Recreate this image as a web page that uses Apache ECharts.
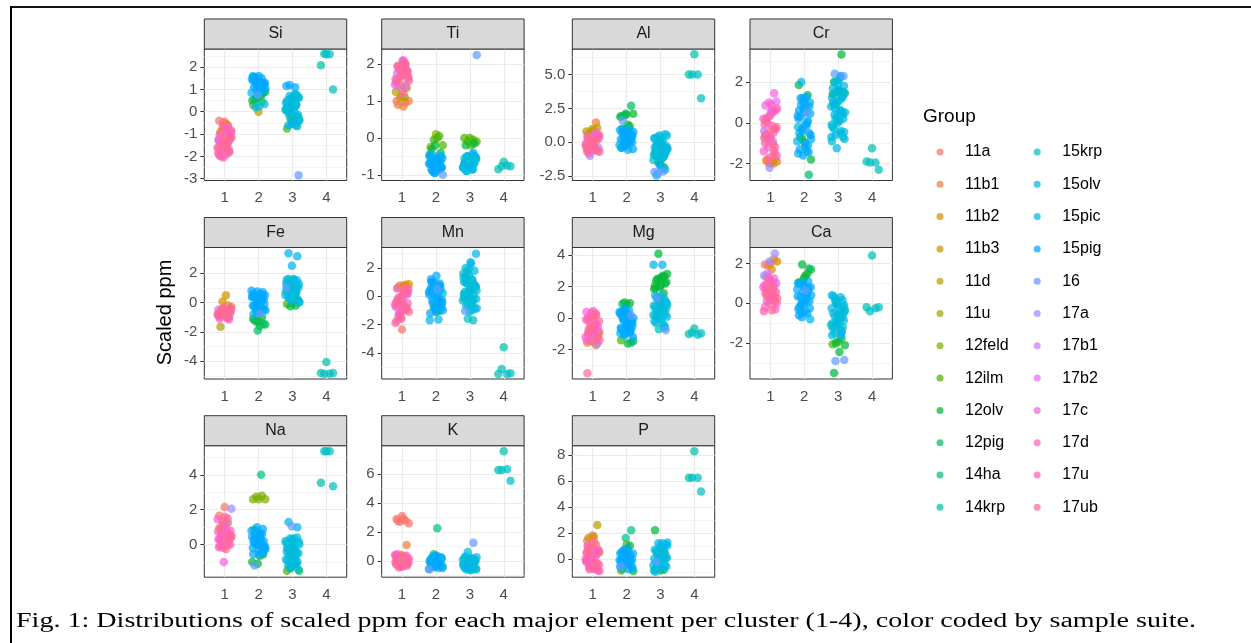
<!DOCTYPE html>
<html><head><meta charset="utf-8">
<script src="https://cdn.jsdelivr.net/npm/echarts@6/dist/echarts.min.js"></script>
<style>html,body{margin:0;padding:0;background:#fff}#c{width:1251px;height:643px}</style>
</head><body><div id="c"></div>
<script>
// ---------- data ----------
const groups = ['11a','11b1','11b2','11b3','11d','11u','12feld','12ilm','12olv','12pig','14ha','14krp',
  '15krp','15olv','15pic','15pig','16','17a','17b1','17b2','17c','17d','17u','17ub'];
const elements = ['Si','Ti','Al','Cr','Fe','Mn','Mg','Ca','Na','K','P'];
const clusterTicks = [1,2,3,4];
const yLimits = [[-3.08,2.81],[-1.155,2.41],[-2.82,6.88],[-2.83,3.62],[-5.2,3.74],[-5.85,3.44],
  [-3.86,4.49],[-3.8,2.8],[-1.87,5.67],[-1.14,7.98],[-1.42,8.73]];
const yBreaks = [[-3,-2,-1,0,1,2],[-1,0,1,2],[-2.5,0,2.5,5],[-2,0,2],[-4,-2,0,2],[-4,-2,0,2],
  [-2,0,2,4],[-2,0,2],[0,2,4],[0,2,4,6],[0,2,4,6,8]];

// rows: [cluster, group, scaled ppm values]
const Si = [
 [1,'11a',[-0.45,-0.4]],[1,'11b1',[-0.6,-0.7,-0.85]],[1,'11b2',[-0.55,-0.9]],[1,'17a',[-1.3,-1.35,-1.25]],
 [1,'17b1',[-0.75,-1.75]],[1,'17c',[-1.0,-1.5,-1.05,-1.8]],[1,'17d',[-1.1,-1.6,-1.9,-2.0,-1.2,-0.65,-1.3,-1.45,-1.75,-0.9]],
 [1,'17u',[-0.8,-1.4,-1.7,-2.05,-1.85,-1.0,-1.55,-1.15,-1.6,-1.95,-0.7]],[1,'17ub',[-0.5,-1.15,-1.55,-0.95,-1.8,-1.25,-1.65,-1.35]],
 [2,'11d',[0.0]],[2,'12feld',[0.3]],[2,'12ilm',[0.45,0.65]],[2,'12olv',[0.9,0.75,0.55,0.85]],
 [2,'12pig',[0.6,0.5,0.7]],[2,'15olv',[0.2,0.35,0.25]],[2,'15pic',[1.55,1.25,0.95,0.85,1.05,1.35,1.0,0.8]],
 [2,'15pig',[1.6,1.5,1.4,1.3,1.2,1.1,1.0,1.35,1.45,1.15,1.55,1.25,1.6,1.4,1.3,1.15,1.05,0.9,1.5,1.2]],[2,'16',[0.75]],
 [3,'12ilm',[-0.2,-0.75,-0.6]],[3,'12olv',[-0.3,-0.35,-0.45]],[3,'15krp',[0.25,-0.4,-0.55,0.05]],
 [3,'15olv',[0.8,0.7,0.6,0.5,0.4,0.3,0.2,0.1,0.0,-0.1,-0.2,0.45,0.15,0.35,-0.05,0.65,0.55,0.25,
   0.75,0.6,0.4,0.2,0.0,-0.15,-0.3,0.5,0.3,0.1,-0.4,0.7]],
 [3,'15pic',[-0.6,-0.65,-0.5]],[3,'15pig',[1.15,1.1,1.2]],[3,'16',[-2.85]],
 [4,'14krp',[2.58,2.08]],[4,'15krp',[2.58,2.6,1.0]]
];
const Ti = [
 [1,'11a',[1.3,1.0,0.95,1.1]],[1,'11b1',[1.0,0.85,0.9]],[1,'11b2',[1.35]],[1,'11d',[1.1,1.25]],[1,'11u',[1.1]],
 [1,'17a',[1.4,1.6,2.1]],[1,'17b1',[1.75,1.4]],[1,'17c',[1.9,1.45]],[1,'17d',[2.1,1.9,1.8,1.7,1.5,2.0,1.85,1.65]],
 [1,'17u',[2.05,1.95,1.85,1.75,1.6,2.0,1.9,1.8,1.7,1.55]],[1,'17ub',[2.0,1.65,1.55,1.2,1.95,1.75,1.45]],
 [2,'12feld',[0.1,-0.25]],[2,'12ilm',[0.05,-0.05,-0.2,0.0]],[2,'12olv',[-0.3,-0.4,-0.2]],[2,'12pig',[-0.45,-0.55]],
 [2,'15olv',[-0.6,-0.8,-0.5]],[2,'15pic',[-0.45,-0.65,-0.95,-0.7,-0.55,-0.9]],
 [2,'15pig',[-0.5,-0.6,-0.7,-0.8,-0.9,-0.55,-0.75,-0.85,-0.65,-0.95,-0.5,-0.6,-0.7,-0.8,-0.9,-0.65,-0.85,-0.75]],[2,'16',[-1.0]],
 [3,'12ilm',[0.0,0.0,-0.05,-0.1,-0.1,-0.2]],[3,'12olv',[-0.2,-0.15]],[3,'15krp',[-0.6,-0.8]],
 [3,'15olv',[-0.45,-0.5,-0.55,-0.6,-0.65,-0.7,-0.75,-0.8,-0.85,-0.9,-0.5,-0.6,-0.7,-0.85,
   -0.5,-0.55,-0.6,-0.65,-0.7,-0.75,-0.8,-0.85,-0.9,-0.6,-0.7,-0.55]],
 [3,'15pic',[-0.4,-0.75]],[3,'16',[2.25]],
 [4,'14krp',[-0.65,-0.85]],[4,'15krp',[-0.75,-0.77,-0.77]]
];
const Al = [
 [1,'11a',[0.65,-0.7]],[1,'11b1',[1.45,0.7,0.5]],[1,'11b2',[0.9,0.6]],[1,'11b3',[1.05]],[1,'11d',[0.95,0.8]],
 [1,'17a',[0.55,-1.0,-0.4]],[1,'17b1',[-0.6,0.2]],[1,'17b2',[0.7]],[1,'17c',[0.3,-0.2,0.5,-0.6]],
 [1,'17d',[0.4,0.0,-0.3,-0.5,0.1,0.3,-0.2,-0.6,0.6]],[1,'17u',[0.2,-0.1,-0.55,-0.8,0.5,0.0,0.45,0.1,-0.35,-0.7]],
 [1,'17ub',[-0.25,0.35,-0.65,0.0,-0.45,0.25]],
 [2,'12feld',[2.05]],[2,'12ilm',[1.9,1.2]],[2,'12olv',[2.0,2.1,1.3,1.0]],[2,'12pig',[2.7,2.1,1.9]],[2,'14ha',[1.0]],
 [2,'15pic',[0.9,0.45,0.1,-0.4,0.25,0.6,-0.2]],
 [2,'15pig',[1.0,0.8,0.6,0.4,0.2,0.0,-0.3,-0.5,0.5,0.7,0.3,-0.1,0.9,0.6,0.3,0.0,-0.2,-0.4,0.5,0.15,0.75,-0.55]],[2,'16',[1.6]],
 [3,'12ilm',[-1.6]],[3,'12olv',[-1.0,-1.85,-1.5]],[3,'15krp',[-0.5,-1.2,-0.7]],
 [3,'15olv',[0.6,0.5,0.3,0.1,-0.1,-0.3,-0.5,-0.7,-0.9,-1.1,-1.3,-0.2,-0.6,-0.8,0.0,-0.4,-1.0,0.4,
   0.5,0.2,-0.2,-0.5,-0.7,-0.9,-1.15,-0.3,-0.6,-0.8,0.3,-1.05,0.05,-0.45]],
 [3,'15pic',[-1.9,-2.45,-2.0]],[3,'15pig',[-1.7]],[3,'16',[-2.2,-2.15,-2.3]],
 [4,'14krp',[6.5,5.0]],[4,'15krp',[5.0,5.0,3.25]]
];
const Cr = [
 [1,'11a',[-2.0,-0.65]],[1,'11b1',[-2.0,-1.95,-1.9]],[1,'11b2',[-1.95,-1.85]],[1,'11d',[-1.75]],
 [1,'17a',[-2.2,-0.4,-0.9]],[1,'17b1',[-0.85]],[1,'17b2',[1.05,0.55]],[1,'17c',[0.85,1.45,1.0,0.2,0.6,-0.6]],
 [1,'17d',[0.6,0.35,-0.1,-0.5,-1.2,-1.6,0.9,0.2,-0.3,-0.8,-1.4,0.5]],
 [1,'17u',[0.0,-0.3,-0.7,-1.0,-1.4,0.3,0.7,-0.15,-0.55,-1.2,-1.7]],[1,'17ub',[-0.75,-1.05,-1.8,-0.2,-0.4,0.1,-1.5]],
 [2,'12ilm',[-0.95]],[2,'12olv',[1.85,1.35,-0.8,-1.8]],[2,'12pig',[0.7,-0.7,-2.55]],[2,'15olv',[1.0,-0.2,-1.4]],
 [2,'15pic',[2.0,0.45,-0.1,-0.5,-1.1,1.2,-0.9]],
 [2,'15pig',[1.25,1.2,0.8,0.5,0.2,0.0,-0.3,-0.6,-1.0,-1.3,-1.45,-1.6,0.35,-0.15,0.9,1.0,
   1.1,0.6,0.1,-0.4,-0.8,-1.2,0.3,-0.5,0.7,-1.5]],[2,'16',[0.5]],
 [3,'12ilm',[1.55,1.4]],[3,'12olv',[3.35,1.5,1.45,1.55,2.0]],[3,'15krp',[1.3,0.1,-0.9]],
 [3,'15olv',[2.25,2.0,1.8,1.6,1.4,1.2,1.0,0.8,0.6,0.4,0.2,0.0,-0.2,-0.4,-0.6,-0.8,1.1,0.9,0.5,0.3,-0.1,-0.5,0.7,1.5,
   1.9,1.7,1.3,0.9,0.5,0.1,-0.3,-0.7,1.6,1.2,0.6,0.2,-0.45,2.1,1.0,0.4]],
 [3,'15pic',[-1.25,-0.7,2.3]],[3,'16',[2.4,2.3]],
 [4,'14krp',[-1.25,-1.9]],[4,'15krp',[-1.95,-1.95,-2.3]]
];
const Fe = [
 [1,'11a',[-0.5,-0.8]],[1,'11b1',[-0.2]],[1,'11b2',[0.05,-0.3]],[1,'11b3',[0.5]],[1,'11d',[-1.65]],
 [1,'17a',[-0.95,-0.6]],[1,'17b1',[-0.5]],[1,'17c',[-1.0,-0.8]],[1,'17d',[-0.4,-0.7,-1.1,-0.55,-0.5,-0.85,-1.0,-0.6]],
 [1,'17u',[-0.45,-0.65,-0.85,-1.05,-0.6,-0.55,-0.75,-0.95,-1.15]],[1,'17ub',[-0.35,-0.75,-0.9,-0.45,-0.7,-0.65]],
 [2,'12feld',[-1.25]],[2,'12ilm',[-1.1]],[2,'12olv',[-1.0,-1.3,-1.5,-1.6]],[2,'12pig',[-1.2,-1.45,-1.9]],
 [2,'15olv',[0.45,-0.35]],[2,'15pic',[0.3,-0.1,-0.5,-0.8,0.5,-0.3]],
 [2,'15pig',[0.8,0.6,0.4,0.2,0.0,-0.2,-0.4,-0.6,0.5,0.1,-0.3,0.7,0.75,0.35,0.05,-0.15,-0.45,-0.7,0.6,0.25,-0.25,-0.55]],[2,'16',[-0.75]],
 [3,'12ilm',[0.0,-0.1]],[3,'12olv',[-0.2,-0.25]],[3,'15krp',[0.0,0.65]],
 [3,'15olv',[1.6,1.5,1.4,1.3,1.2,1.1,1.0,0.9,0.8,0.7,0.6,0.5,0.4,0.3,0.2,0.1,1.55,0.85,0.45,1.25,
   1.55,1.35,1.15,0.95,0.75,0.55,0.35,0.15,1.45,1.05,0.65,0.25,0.05,1.6]],
 [3,'15pic',[3.35,3.15,2.5]],[3,'16',[1.0]],
 [4,'14krp',[-4.05,-4.8]],[4,'15krp',[-4.85,-4.85,-4.8]]
];
const Mn = [
 [1,'11a',[-2.35,-1.75]],[1,'11b1',[0.8,0.75]],[1,'11b2',[0.85,0.7]],[1,'11b3',[0.6]],
 [1,'17a',[0.1,-0.45]],[1,'17b1',[-0.75]],[1,'17c',[0.5,-1.2,0.2,-0.35]],
 [1,'17d',[0.55,0.2,-0.2,-0.6,-1.0,-1.4,0.4,0.0,-0.4,-0.8,-1.2]],
 [1,'17u',[0.5,0.1,-0.3,-0.8,-1.5,-1.9,0.3,-0.1,-0.5,-1.0,-0.65]],[1,'17ub',[0.3,-0.5,-1.1,0.45,-0.2,-0.9,-1.6]],
 [2,'12feld',[-1.1]],[2,'12olv',[0.4,-1.05]],[2,'12pig',[-0.8]],[2,'15olv',[0.2,-0.5]],
 [2,'15pic',[1.0,0.45,-0.75,-1.7,-1.65,0.8,-0.25]],
 [2,'15pig',[1.45,1.2,0.9,0.6,0.3,0.0,-0.3,-0.6,-0.9,-1.2,0.75,0.15,-0.45,-0.15,
   1.0,0.7,0.4,0.1,-0.2,-0.5,-0.8,-1.1,0.55,-0.35,0.95,-1.0]],[2,'16',[0.5]],
 [3,'12olv',[0.0,-0.15]],[3,'15krp',[-1.7,-1.6,0.4]],
 [3,'15olv',[2.3,2.0,1.8,1.5,1.3,1.1,0.9,0.7,0.5,0.3,0.1,-0.1,-0.3,-0.5,-0.7,-0.9,-1.1,1.0,0.6,0.2,-0.2,-0.6,1.4,0.8,
   1.9,1.6,1.2,0.95,0.65,0.35,0.05,-0.25,-0.55,-0.85,-1.0,1.15,0.75,0.45,0.15,-0.4,1.7]],
 [3,'15pic',[3.0,2.4]],[3,'16',[-1.05]],
 [4,'14krp',[-3.6,-5.5]],[4,'15krp',[-5.5,-5.15,-5.45]]
];
const Mg = [
 [1,'11a',[-0.8]],[1,'11b1',[-1.55,-1.7]],[1,'11b2',[-1.45]],[1,'11d',[-0.9]],[1,'17a',[-0.55,-1.0,-1.6]],
 [1,'17b1',[-1.1]],[1,'17c',[0.4,-0.3,0.1,-0.85]],[1,'17d',[0.45,0.0,-0.4,-0.75,-1.2,0.25,-0.2,-0.55,-1.0,-1.4]],
 [1,'17u',[0.3,0.1,-0.2,-0.6,-0.95,-1.3,0.35,-0.1,-0.45,-0.8,-1.15,-1.5]],[1,'17ub',[-3.5,0.2,-0.5,-1.4,0.05,-0.7,-1.2]],
 [2,'12feld',[0.9]],[2,'12ilm',[-1.4]],[2,'12olv',[0.95,1.0,-1.45,-1.6]],[2,'12pig',[0.9,-1.55]],
 [2,'15olv',[-0.15,-0.95]],[2,'15pic',[0.5,-0.1,-0.5,-0.9,0.2,-0.75]],
 [2,'15pig',[0.6,0.4,0.2,0.0,-0.2,-0.4,-0.6,-0.8,-1.0,-1.2,-0.3,0.3,-0.7,
   0.5,0.3,0.1,-0.1,-0.3,-0.5,-0.7,-0.9,-1.1,0.0,-0.55,0.45]],[2,'16',[0.15]],
 [3,'12ilm',[2.5,2.1,1.6]],[3,'12olv',[4.1,2.8,2.6,2.4,2.2,2.0,1.85,2.7,2.5,2.3,2.1,1.9,2.65]],[3,'15krp',[-0.7,0.2]],
 [3,'15olv',[1.5,1.3,1.1,0.9,0.7,0.5,0.3,0.1,-0.1,-0.3,-0.5,1.2,0.8,0.4,0.0,0.6,1.0,
   1.45,1.25,1.05,0.85,0.65,0.45,0.25,0.05,-0.2,-0.4,1.35,0.95,0.55,0.15,-0.6,1.1]],
 [3,'15pic',[3.4,3.4]],[3,'16',[1.25,-0.75]],
 [4,'14krp',[-0.65,-1.0]],[4,'15krp',[-1.05,-0.9,-0.95]]
];
const Ca = [
 [1,'11a',[2.0,1.95]],[1,'11b1',[2.2,1.9]],[1,'11b2',[2.1,1.7]],[1,'11d',[1.35]],[1,'17a',[2.5,2.1,1.4,0.95]],
 [1,'17b1',[1.5]],[1,'17c',[1.0,0.2,0.5,1.25]],[1,'17d',[1.3,0.8,0.5,0.1,-0.3,1.2,0.9,0.6,0.35,0.0]],
 [1,'17u',[1.1,0.7,0.3,0.0,-0.4,0.45,1.0,0.55,0.15,-0.2,0.8]],[1,'17ub',[0.6,0.25,-0.35,0.4,0.1,0.75]],
 [2,'12feld',[1.3,1.05]],[2,'12ilm',[1.5]],[2,'12olv',[1.95,1.7,1.4,1.0]],[2,'12pig',[1.75,1.2]],
 [2,'15pic',[1.0,0.4,-0.45,-0.8,0.85,-0.2]],
 [2,'15pig',[1.1,0.9,0.7,0.5,0.3,0.1,-0.1,-0.3,-0.5,-0.7,0.8,0.2,1.0,0.75,0.55,0.35,0.15,-0.05,-0.25,-0.45,-0.6,0.6,0.0,0.4]],[2,'16',[0.65]],
 [3,'12ilm',[-1.9,-2.05]],[3,'12olv',[-1.75,-2.0,-2.1,-2.45,-3.5]],[3,'15krp',[-1.2,0.0]],
 [3,'15olv',[0.4,0.3,0.1,-0.1,-0.3,-0.5,-0.7,-0.9,-1.1,-1.3,-1.5,-0.2,-0.6,-1.0,-1.4,0.2,-0.4,-0.8,
   0.35,0.15,-0.05,-0.25,-0.45,-0.65,-0.85,-1.05,-1.25,-1.45,0.0,-0.35,-0.75,-1.15,-0.55,-0.95,-1.6]],
 [3,'15pic',[-1.6]],[3,'16',[-2.9,-2.85]],
 [4,'14krp',[2.4,-0.2]],[4,'15krp',[-0.25,-0.4,-0.2]]
];
const Na = [
 [1,'11a',[2.15,1.65]],[1,'11b1',[1.25]],[1,'11b2',[1.1]],[1,'17a',[2.05,1.2]],[1,'17b1',[0.9]],[1,'17b2',[0.5]],
 [1,'17c',[-1.0,0.3,0.7,0.35]],[1,'17d',[0.8,0.55,0.3,0.0,-0.2,1.45,0.9,0.6,0.35,0.1,-0.15]],
 [1,'17u',[1.5,0.7,0.4,0.15,-0.1,0.6,1.1,0.75,0.45,0.2,0.0]],[1,'17ub',[1.6,0.95,0.2,1.3,0.5,-0.25]],
 [2,'12feld',[2.6,2.6,2.8,2.75,2.6]],[2,'12ilm',[-0.65]],[2,'12olv',[0.85,-0.55,-1.1,-1.0]],[2,'14ha',[4.0]],
 [2,'15pic',[0.45,-0.3,-0.6,0.2,-0.5]],
 [2,'15pig',[1.0,0.8,0.6,0.4,0.2,0.0,-0.2,-0.4,0.3,-0.1,0.5,0.1,0.9,0.7,0.45,0.25,0.05,-0.15,-0.35,-0.55,0.6,0.0,-0.25,0.15]],[2,'16',[-1.2]],
 [3,'12ilm',[-1.2,-1.5]],[3,'12olv',[-1.1,-1.35,-1.5]],[3,'15krp',[0.35,-1.2]],
 [3,'15olv',[0.4,0.3,0.1,-0.1,-0.3,-0.5,-0.7,-0.9,-1.1,-1.3,0.2,-0.2,-0.6,-1.0,0.0,-0.4,-0.8,
   0.35,0.15,-0.05,-0.25,-0.45,-0.65,-0.85,-1.05,-1.25,-1.4,0.25,-0.15,-0.55,-0.95,0.0,-0.35]],
 [3,'15pic',[1.3,1.0]],[3,'16',[1.05]],
 [4,'14krp',[5.35,3.55]],[4,'15krp',[5.35,5.35,3.35]]
];
const K = [
 [1,'11a',[3.1,2.9,2.8,2.7,2.6,2.9,2.75]],[1,'11b1',[1.1,0.4]],[1,'11b2',[0.35]],[1,'11d',[0.3]],
 [1,'17a',[-0.3]],[1,'17b1',[0.0]],[1,'17c',[-0.4,0.1,0.2,-0.2]],[1,'17d',[0.4,0.2,0.0,-0.2,-0.4,0.3,0.3,0.1,-0.1,-0.3,0.45]],
 [1,'17u',[0.35,0.1,-0.1,-0.3,-0.45,-0.2,0.25,0.0,-0.2,-0.4,0.15]],[1,'17ub',[0.2,-0.15,-0.35,0.35,-0.25,0.05]],
 [2,'12olv',[0.3,0.05,-0.3]],[2,'12pig',[0.45,-0.4]],[2,'14ha',[2.25]],[2,'15pic',[0.2,-0.1,-0.35,0.0,-0.5]],
 [2,'15pig',[0.3,0.15,0.0,-0.15,-0.3,-0.45,-0.55,0.1,-0.2,0.25,0.05,-0.1,-0.25,-0.4,-0.5,0.35,-0.05,-0.35,0.2]],[2,'16',[-0.6]],
 [3,'12olv',[-0.6]],[3,'15krp',[0.2,-0.45]],
 [3,'15olv',[0.6,0.25,0.1,0.0,-0.1,-0.2,-0.3,-0.4,-0.5,-0.6,0.15,-0.15,-0.35,-0.55,0.05,
   0.2,0.05,-0.05,-0.15,-0.25,-0.35,-0.45,-0.55,-0.65,0.3,0.1,-0.1,-0.3,-0.5,-0.6,0.0]],
 [3,'15pic',[-0.25,-0.5]],[3,'16',[1.25]],
 [4,'14krp',[7.6,6.3]],[4,'15krp',[6.35,6.3,5.55]]
];
const P = [
 [1,'11a',[1.8,1.4,1.1]],[1,'11b1',[0.8]],[1,'11b2',[0.5]],[1,'11b3',[1.7,1.6]],[1,'11d',[2.6]],
 [1,'17a',[-0.3]],[1,'17b1',[-0.2]],[1,'17c',[-0.8,0.2,0.6,-0.5]],
 [1,'17d',[1.0,0.6,0.3,0.0,-0.3,-0.6,-0.9,0.8,0.45,0.15,-0.15,-0.45,-0.75]],
 [1,'17u',[0.9,0.4,0.1,-0.2,-0.5,-0.8,0.7,0.25,-0.05,-0.35,-0.65,-0.95]],[1,'17ub',[1.3,0.7,-0.4,1.1,0.5,-0.6]],
 [2,'12feld',[1.1,-0.9]],[2,'12olv',[1.0,0.6,-0.95]],[2,'12pig',[0.7,-0.8]],[2,'14ha',[2.2,1.6]],
 [2,'15pic',[0.4,-0.4,0.1,-0.65]],
 [2,'15pig',[0.8,0.5,0.3,0.1,-0.1,-0.3,-0.5,-0.7,0.2,-0.2,0.0,0.7,0.4,0.2,0.0,-0.2,-0.4,-0.6,-0.8,0.6,-0.05,0.3]],[2,'16',[-0.6]],
 [3,'12ilm',[-0.9]],[3,'12olv',[2.2,-0.85]],
 [3,'15olv',[1.2,1.0,0.8,0.6,0.4,0.2,0.0,-0.2,-0.4,-0.6,-0.8,-1.0,0.3,-0.1,-0.5,0.1,0.5,
   1.1,0.9,0.7,0.5,0.3,0.1,-0.1,-0.3,-0.5,-0.7,-0.9,0.8,0.4,0.0,-0.4,-0.8,0.6,0.2]],
 [3,'15pic',[1.25,1.2]],[3,'16',[-0.25]],
 [4,'14krp',[8.3,6.25]],[4,'15krp',[6.25,6.25,5.2]]
];
const panelData = [Si, Ti, Al, Cr, Fe, Mn, Mg, Ca, Na, K, P];
const captionText = 'Fig. 1: Distributions of scaled ppm for each major element per cluster (1-4), color coded by sample suite.';

// ---------- styling helpers ----------
const SANS = '"Liberation Sans", Arial, Helvetica, sans-serif';
const SERIF = '"Liberation Serif", "Times New Roman", serif';
function hcl(h, c, l) {
  const Xn = 95.047, Yn = 100, Zn = 108.883;
  const hr = h * Math.PI / 180, u = c * Math.cos(hr), v = c * Math.sin(hr);
  const Y = l > 8 ? Yn * Math.pow((l + 16) / 116, 3) : Yn * l / 903.3;
  const den = Xn + 15 * Yn + 3 * Zn, un = 4 * Xn / den, vn = 9 * Yn / den;
  const up = u / (13 * l) + un, vp = v / (13 * l) + vn;
  const X = Y * 9 * up / (4 * vp), Z = Y * (12 - 3 * up - 20 * vp) / (4 * vp);
  const x = X / 100, y = Y / 100, z = Z / 100;
  const lin = [3.2404542*x - 1.5371385*y - 0.4985314*z, -0.9692660*x + 1.8760108*y + 0.0415560*z,
               0.0556434*x - 0.2040259*y + 1.0572252*z];
  return '#' + lin.map(t => {
    let g = t <= 0.0031308 ? 12.92 * t : 1.055 * Math.pow(t, 1/2.4) - 0.055;
    g = Math.max(0, Math.min(1, g));
    return Math.round(g * 255).toString(16).padStart(2, '0');
  }).join('');
}
const colors = groups.map((g, i) => hcl(15 + i * 360 / groups.length, 100, 65));

// ---------- layout ----------
const colLeft = [204.3, 381.7, 572.3, 750], rowTop = [49, 247.5, 445.7];
const PW = 142.4, PH = 131.5, SH = 30;
const jitter = k => (((k * 0.6180339887 + 0.5) % 1) - 0.5) * 0.42;

const grids = [], xAxes = [], yAxes = [], series = [], graphics = [];
elements.forEach((el, p) => {
  const r = Math.floor(p / 4), c = p % 4;
  const left = colLeft[c], top = rowTop[r];
  const [ymin, ymax] = yLimits[p];
  const br = yBreaks[p];
  const step = br[1] - br[0];
  const dec = br.some(v => Math.abs(v - Math.round(v)) > 1e-9) ? 1 : 0;
  grids.push({left, top, width: PW, height: PH, show: true, borderColor: '#333', borderWidth: 1, backgroundColor: '#fff'});
  xAxes.push({gridIndex: p, type: 'value', min: 0.4, max: 4.6,
    axisLine: {show: false}, splitLine: {show: false},
    axisTick: {show: true, length: 4, lineStyle: {color: '#333', width: 1}, customValues: clusterTicks},
    axisLabel: {show: true, customValues: clusterTicks, color: '#4D4D4D', fontSize: 15, fontFamily: SANS, margin: 10}});
  yAxes.push({gridIndex: p, type: 'value', min: ymin, max: ymax,
    axisLine: {show: false}, splitLine: {show: false},
    axisTick: {show: true, length: 4, lineStyle: {color: '#333', width: 1}, customValues: br},
    axisLabel: {show: true, customValues: br, color: '#4D4D4D', fontSize: 15, fontFamily: SANS, margin: 7,
      formatter: v => Number(v).toFixed(dec)}});
  // minor breaks
  const ext = [br[0] - step, ...br, br[br.length - 1] + step];
  const minors = [];
  for (let i = 0; i < ext.length - 1; i++) {
    const m = (ext[i] + ext[i + 1]) / 2;
    if (m > ymin && m < ymax) minors.push(m);
  }
  const gl = [];
  minors.forEach(v => gl.push({yAxis: v, lineStyle: {color: '#F3F3F3', width: 0.8, type: 'solid'}}));
  br.forEach(v => gl.push({yAxis: v, lineStyle: {color: '#EBEBEB', width: 1.2, type: 'solid'}}));
  clusterTicks.forEach(v => gl.push({xAxis: v, lineStyle: {color: '#EBEBEB', width: 1.2, type: 'solid'}}));
  series.push({type: 'scatter', xAxisIndex: p, yAxisIndex: p, data: [], z: 1, silent: true,
    markLine: {silent: true, z: 1, zlevel: 0, symbol: ['none', 'none'], label: {show: false}, animation: false, data: gl}});
  // points
  const byGroup = {};
  groups.forEach(g => byGroup[g] = []);
  const counters = {1: 0, 2: 0, 3: 0, 4: 0};
  panelData[p].forEach(([cl, g, vals]) => {
    vals.forEach(v => { byGroup[g].push([cl + jitter(counters[cl]++), v]); });
  });
  groups.forEach((g, gi) => {
    series.push({type: 'scatter', name: g, xAxisIndex: p, yAxisIndex: p, data: byGroup[g], z: 3,
      symbol: 'circle', symbolSize: 8.5, silent: true, emphasis: {disabled: true},
      itemStyle: {color: colors[gi], opacity: 0.72}});
  });
  // strip
  graphics.push({type: 'rect', shape: {x: left, y: top - SH, width: PW, height: SH},
    style: {fill: '#D9D9D9', stroke: '#333', lineWidth: 1}, z: 10});
  graphics.push({type: 'text', x: left + PW / 2, y: top - SH / 2, z: 11,
    style: {text: el, fill: '#1A1A1A', font: '16px ' + SANS, align: 'center', verticalAlign: 'middle'}});
});

// caption, axis title, legend title, frame
const mctx = document.createElement('canvas').getContext('2d');
mctx.font = '20px ' + SERIF;
const capW = mctx.measureText(captionText).width;
const capScale = 1180 / capW;
graphics.push({type: 'text', x: 16, y: 622, scaleX: capScale,
  style: {text: captionText, fill: '#000', font: '20px ' + SERIF, align: 'left', verticalAlign: 'middle'}});
graphics.push({type: 'text', x: 165, y: 312.5, rotation: Math.PI / 2,
  style: {text: 'Scaled ppm', fill: '#000', font: '20px ' + SANS, align: 'center', verticalAlign: 'middle'}});
graphics.push({type: 'text', x: 923, y: 117,
  style: {text: 'Group', fill: '#000', font: '19px ' + SANS, align: 'left', verticalAlign: 'middle'}});
graphics.push({type: 'line', shape: {x1: 10, y1: 7, x2: 1251, y2: 7}, style: {stroke: '#111', lineWidth: 2}});
graphics.push({type: 'line', shape: {x1: 11, y1: 6, x2: 11, y2: 643}, style: {stroke: '#000', lineWidth: 2}});

const legendBase = {orient: 'vertical', top: 144, itemWidth: 40, itemHeight: 7, itemGap: 16.3,
  selectedMode: false, padding: 0, icon: 'circle',
  textStyle: {fontSize: 16, color: '#000', fontFamily: SANS}};
const option = {
  animation: false,
  backgroundColor: '#fff',
  grid: grids, xAxis: xAxes, yAxis: yAxes, series,
  legend: [
    Object.assign({}, legendBase, {left: 936.5, data: groups.slice(0, 12)}),
    Object.assign({}, legendBase, {left: 1033.7, data: groups.slice(12)})
  ],
  graphic: {elements: graphics}
};
const chart = echarts.init(document.getElementById('c'), null, {renderer: 'canvas'});
chart.setOption(option);
</script></body></html>
